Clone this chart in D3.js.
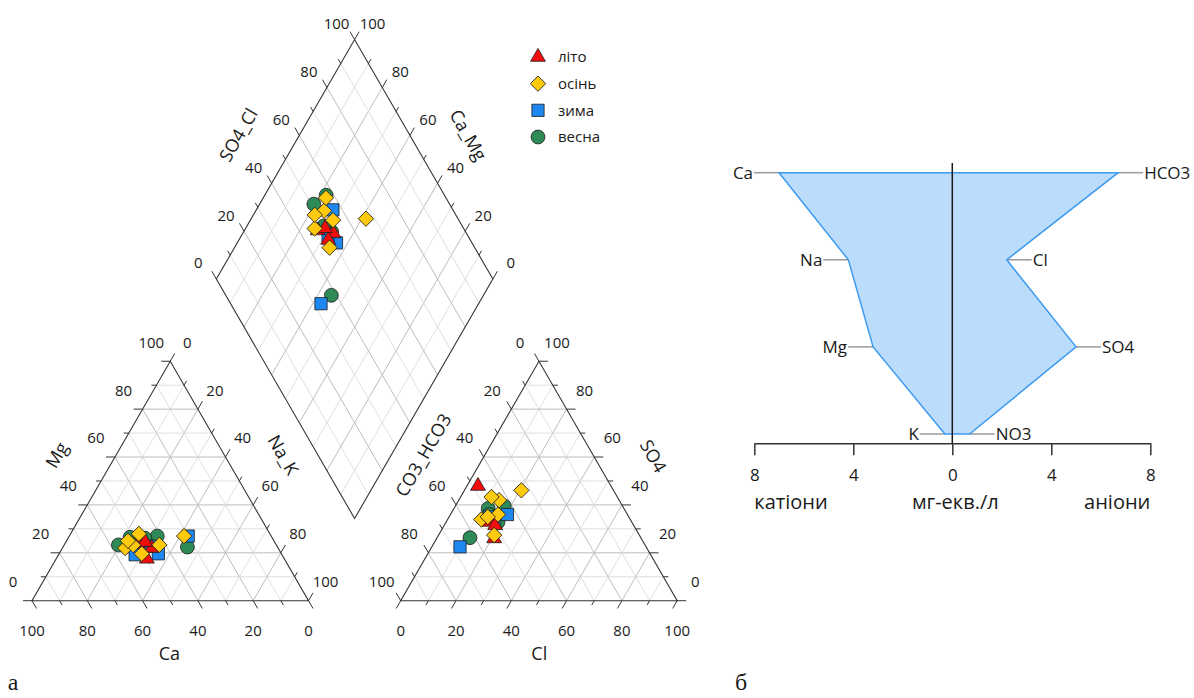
<!DOCTYPE html>
<html>
<head>
<meta charset="utf-8">
<script src="https://cdn.jsdelivr.net/npm/d3@7"></script>
<style>
  body { margin: 0; background: #fff; }
  svg text { font-family: "Open Sans", "Noto Sans", sans-serif; fill: #1a1a1a; }
</style>
</head>
<body>
<svg id="chart" width="1194" height="698"></svg>
<script>
// Samples, % of meq/l: [Ca, Mg, Cl, SO4]; Na+K and CO3+HCO3 are the remainders to 100
const summer = [
  [49.7, 23.8, 20.8, 26.0],
  [49.7, 17.5,  4.0, 47.9],
  [45.7, 22.0, 15.7, 32.9],
  [46.8, 24.5, 18.4, 31.5]
];
const autumn = [
  [47.4, 27.9, 17.2, 36.0],
  [55.3, 22.0, 14.6, 42.0],
  [31.5, 27.0, 20.6, 46.1],
  [50.5, 19.6, 11.2, 43.3],
  [51.8, 23.2, 12.2, 33.9],
  [42.3, 23.3, 20.1, 27.4],
  [52.8, 25.0, 14.0, 35.0]
];
const winter = [
  [53.1, 19.2, 20.6, 36.0],
  [44.5, 19.6, 16.5, 34.5],
  [30.0, 27.0, 10.2, 22.5],
  [45.9, 22.8, 14.5, 35.0]
];
const spring = [
  [57.1, 23.3, 12.4, 38.5],
  [51.3, 26.5, 17.7, 39.5],
  [41.2, 27.0, 18.8, 32.8],
  [32.6, 22.4, 11.9, 26.3],
  [46.1, 26.1, 14.0, 36.0]
];
const seasonNames  = ["літо", "осінь", "зима", "весна"];
const seasonColors = ["#f20d0d", "#ffc90e", "#1e88f0", "#2e8b57"];
const seasonShapes = ["triangle", "diamond", "square", "circle"];
const seasonData   = [summer, autumn, winter, spring];
const drawOrder    = [3, 2, 0, 1];

const pctSteps  = d3.range(0, 101, 10);
const pctLabels = [0, 20, 40, 60, 80, 100];

// Mean ionic composition, meq/l
const cations   = ["Ca", "Na", "Mg", "K"];
const cationMeq = [7.0, 4.2, 3.2, 0.3];
const anions    = ["HCO3", "Cl", "SO4", "NO3"];
const anionMeq  = [6.7, 2.2, 5.0, 0.7];
const meqTicks  = [-8, -4, 0, 4, 8];

const svg = d3.select("#chart");

// ---------- Piper diagram ----------
const side = 276.5, H = side * Math.sqrt(3) / 2;
const baseY = 600.7, catX0 = 32, anX0 = 400.7;
const dBx = (catX0 + side + anX0) / 2, dBy = 518.5;

const catX = d3.scaleLinear().domain([0, 100]).range([catX0, catX0 + side]);
const anX  = d3.scaleLinear().domain([0, 100]).range([anX0, anX0 + side]);
const triY = d3.scaleLinear().domain([0, 100]).range([baseY, baseY - H]);
const dX   = d3.scaleLinear().domain([-100, 100]).range([dBx - side / 2, dBx + side / 2]);
const dY   = d3.scaleLinear().domain([0, 200]).range([dBy, dBy - 2 * H]);

// positions: cation triangle by (Na+K, Mg), anion triangle by (Cl, SO4), diamond by (Ca+Mg, SO4+Cl)
const catPos = (nak, mg) => [catX(nak + mg / 2), triY(mg)];
const anPos  = (cl, so4) => [anX(cl + so4 / 2), triY(so4)];
const dPos   = (camg, so4cl) => [dX(so4cl - camg), dY(so4cl + camg)];

const gGrid = svg.append("g");
const gFrame = svg.append("g");
const gTicks = svg.append("g");
const gLabels = svg.append("g");
const gPts = svg.append("g");

const gridColor = v => (v % 20 === 0 ? "#bdbdbd" : "#dfdfdf");
function gridLine(p, q, v) {
  gGrid.append("line").attr("x1", p[0]).attr("y1", p[1]).attr("x2", q[0]).attr("y2", q[1])
    .attr("stroke", gridColor(v)).attr("stroke-width", 1);
}
pctSteps.filter(v => v > 0 && v < 100).forEach(v => {
  // cation triangle
  gridLine(catPos(0, v), catPos(100 - v, v), v);             // Mg const
  gridLine(catPos(0, 100 - v), catPos(100 - v, 0), v);       // Ca const
  gridLine(catPos(v, 100 - v), catPos(v, 0), v);             // Na+K const
  // anion triangle
  gridLine(anPos(0, v), anPos(100 - v, v), v);               // SO4 const
  gridLine(anPos(v, 0), anPos(v, 100 - v), v);               // Cl const
  gridLine(anPos(0, 100 - v), anPos(100 - v, 0), v);         // HCO3 const
  // diamond
  gridLine(dPos(v, 0), dPos(v, 100), v);
  gridLine(dPos(0, v), dPos(100, v), v);
});

const frameStyle = sel => sel.attr("fill", "none").attr("stroke", "#333").attr("stroke-width", 1.1);
const poly = pts => "M" + pts.map(p => p.join(",")).join("L") + "Z";
gFrame.append("path").attr("d", poly([catPos(0, 0), catPos(100, 0), catPos(0, 100)])).call(frameStyle);
gFrame.append("path").attr("d", poly([anPos(0, 0), anPos(100, 0), anPos(0, 100)])).call(frameStyle);
gFrame.append("path").attr("d", poly([dPos(0, 0), dPos(100, 0), dPos(100, 100), dPos(0, 100)])).call(frameStyle);

const c60 = 0.5, s60 = Math.sqrt(3) / 2;
const DIR = {
  left: [-1, 0], right: [1, 0],
  downRight: [c60, s60], downLeft: [-c60, s60],
  upRight: [c60, -s60], upLeft: [-c60, -s60]
};
function axisTicks(posFn, dir, offset) {
  pctSteps.forEach(v => {
    const p = posFn(v);
    const len = v % 20 === 0 ? 9 : 5;
    gTicks.append("line")
      .attr("x1", p[0]).attr("y1", p[1])
      .attr("x2", p[0] + dir[0] * len).attr("y2", p[1] + dir[1] * len)
      .attr("stroke", "#333").attr("stroke-width", 1);
    if (pctLabels.includes(v)) {
      gLabels.append("text")
        .attr("x", p[0] + offset[0]).attr("y", p[1] + offset[1])
        .attr("text-anchor", "middle").attr("dy", "0.36em")
        .attr("font-size", 15).text(v);
    }
  });
}
// cation triangle: Ca along base, Mg on left side, Na+K on right side
axisTicks(v => catPos(100 - v, 0), DIR.downRight, [0, 30]);
axisTicks(v => catPos(0, v), DIR.left, [-19, -19]);
axisTicks(v => catPos(v, 100 - v), DIR.upRight, [17, -19]);
// anion triangle: Cl along base, CO3+HCO3 on left side, SO4 on right side
axisTicks(v => anPos(v, 0), DIR.downLeft, [0, 30]);
axisTicks(v => anPos(0, 100 - v), DIR.upLeft, [-19, -19]);
axisTicks(v => anPos(100 - v, v), DIR.right, [18, -19]);
// diamond: SO4+Cl on upper-left edge, Ca+Mg on upper-right edge
axisTicks(v => dPos(100, v), DIR.upLeft, [-18, -16]);
axisTicks(v => dPos(v, 100), DIR.upRight, [18, -16]);

const titles = [
  ["Ca", 169.3, 654, 0], ["Mg", 56.7, 455, -60], ["Na_K", 283.3, 455, 60],
  ["Cl", 539.3, 654, 0], ["CO3_HCO3", 423.3, 455, -60], ["SO4", 653.3, 456, 60],
  ["SO4_Cl", 238.3, 135, -60], ["Ca_Mg", 468.3, 135, 60]
];
titles.forEach(([t, x, y, r]) => {
  gLabels.append("text")
    .attr("transform", `translate(${x},${y}) rotate(${r})`)
    .attr("text-anchor", "middle").attr("dy", "0.36em")
    .attr("font-size", 18).text(t);
});

// markers
function markerPath(shape) {
  if (shape === "triangle") return d3.symbol(d3.symbolTriangle, 95)();
  if (shape === "diamond") return d3.symbol(d3.symbolSquare, 118)();
  if (shape === "square") return d3.symbol(d3.symbolSquare, 150)();
  return d3.symbol(d3.symbolCircle, 150)();
}
function drawMarker(g, shape, color, p) {
  g.append("path")
    .attr("d", markerPath(shape))
    .attr("transform", `translate(${p[0]},${p[1]})` + (shape === "diamond" ? " rotate(45)" : ""))
    .attr("fill", color).attr("stroke", "#1a1a1a").attr("stroke-width", 0.8);
}
drawOrder.forEach(si => {
  seasonData[si].forEach(([ca, mg, cl, so4]) => {
    const nak = 100 - ca - mg, hco3 = 100 - cl - so4;
    drawMarker(gPts, seasonShapes[si], seasonColors[si], catPos(nak, mg));
    drawMarker(gPts, seasonShapes[si], seasonColors[si], anPos(cl, so4));
    drawMarker(gPts, seasonShapes[si], seasonColors[si], dPos(ca + mg, 100 - hco3));
  });
});

// legend
const legY = d3.scalePoint().domain(seasonNames).range([57, 137]);
seasonNames.forEach((name, i) => {
  drawMarker(svg, seasonShapes[i], seasonColors[i], [538, legY(name)]);
  svg.append("text").attr("x", 558).attr("y", legY(name)).attr("dy", "0.36em")
    .attr("font-size", 15).text(name);
});

// ---------- Stiff diagram ----------
const sx = d3.scaleLinear().domain([-8, 8]).range([754.3, 1150.3]);
const sy = d3.scalePoint().domain(d3.range(cations.length)).range([172.7, 434]);
const axisY = 443.3;

const gStiff = svg.append("g");
const lead = 25;
cations.forEach((c, i) => {
  const x = sx(-cationMeq[i]), y = sy(i);
  gStiff.append("line").attr("x1", x - lead).attr("x2", x).attr("y1", y).attr("y2", y)
    .attr("stroke", "#a0a0a0").attr("stroke-width", 1.6);
  gStiff.append("text").attr("x", x - lead - 1).attr("y", y).attr("dy", "0.36em")
    .attr("text-anchor", "end").attr("font-size", 17).text(c);
});
anions.forEach((a, i) => {
  const x = sx(anionMeq[i]), y = sy(i);
  gStiff.append("line").attr("x1", x).attr("x2", x + lead).attr("y1", y).attr("y2", y)
    .attr("stroke", "#a0a0a0").attr("stroke-width", 1.6);
  gStiff.append("text").attr("x", x + lead + 1).attr("y", y).attr("dy", "0.36em")
    .attr("text-anchor", "start").attr("font-size", 17).text(a);
});

const outline = cations.map((c, i) => [sx(-cationMeq[i]), sy(i)])
  .concat(anions.map((a, i) => [sx(anionMeq[i]), sy(i)]).reverse());
gStiff.append("path").attr("d", poly(outline))
  .attr("fill", "#bcdcfb").attr("stroke", "#3d9bf0").attr("stroke-width", 1.5)
  .attr("stroke-linejoin", "miter");

gStiff.append("line").attr("x1", sx(0)).attr("x2", sx(0)).attr("y1", 163).attr("y2", axisY)
  .attr("stroke", "#1a1a1a").attr("stroke-width", 1.5);

const xAxis = d3.axisBottom(sx).tickValues(meqTicks).tickFormat(d => Math.abs(d))
  .tickSize(12).tickSizeOuter(0).tickPadding(14);
const gAx = gStiff.append("g").attr("transform", `translate(0,${axisY})`).call(xAxis);
gAx.select(".domain").attr("stroke", "#333").attr("stroke-width", 1.5);
gAx.selectAll(".tick line").attr("stroke", "#333").attr("stroke-width", 1.5);
gAx.selectAll(".tick text").attr("font-family", "Open Sans, sans-serif")
  .attr("font-size", 17).attr("fill", "#1a1a1a");

gStiff.append("text").attr("x", sx(-8)).attr("y", 502).attr("dy", "0.36em")
  .attr("font-size", 20).attr("text-anchor", "start").text("катіони");
gStiff.append("text").attr("x", sx(0) + 3).attr("y", 502).attr("dy", "0.36em")
  .attr("font-size", 20).attr("text-anchor", "middle").text("мг-екв./л");
gStiff.append("text").attr("x", sx(8)).attr("y", 502).attr("dy", "0.36em")
  .attr("font-size", 20).attr("text-anchor", "end").text("аніони");

// panel letters
svg.append("text").attr("x", 13).attr("y", 690).attr("text-anchor", "middle")
  .style("font-family", "'Liberation Serif', serif").attr("font-size", 24).text("а");
svg.append("text").attr("x", 741).attr("y", 690).attr("text-anchor", "middle")
  .style("font-family", "'Liberation Serif', serif").attr("font-size", 24).text("б");
</script>
</body>
</html>
